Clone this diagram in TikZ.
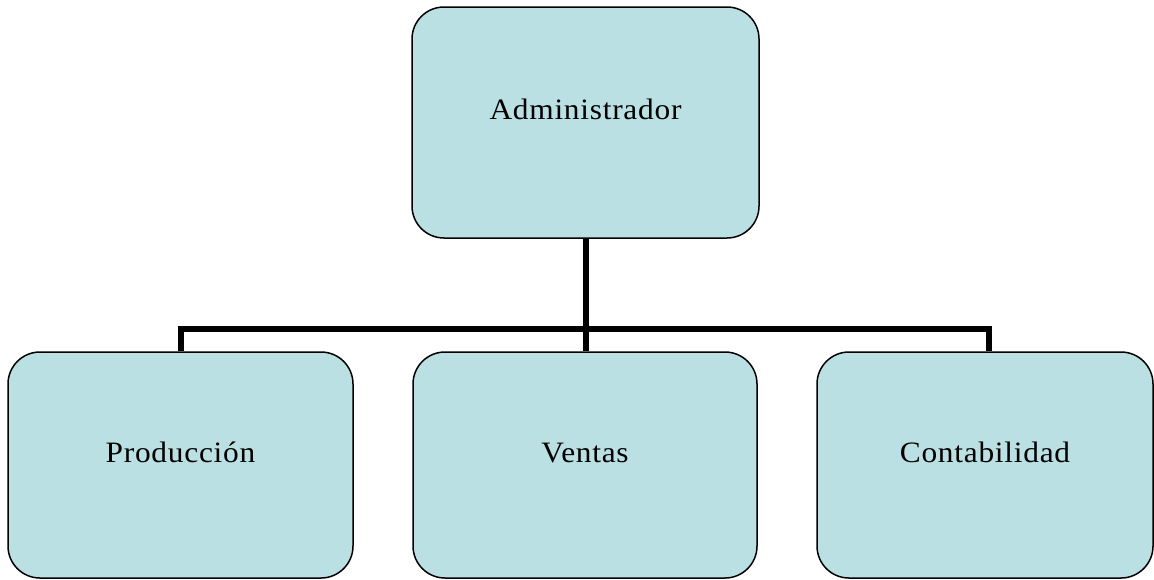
\documentclass[tikz,border=0pt]{standalone}
\usepackage{fontspec}
\setmainfont[FakeStretch=1.06, LetterSpace=2.5]{Liberation Serif}
\usetikzlibrary{calc}

\begin{document}
\begin{tikzpicture}
	\definecolor{boxcolor}{RGB}{186,224,227}
	\tikzset{
		cargo/.style={draw=black, line width=0.75pt, fill=boxcolor, rounded corners=16pt, font=\fontsize{14.8}{17}\selectfont, text height=10pt, text depth=13pt, inner sep=0pt},
		rama/.style={line width=3pt, black}
	}

	\useasboundingbox (0,0) rectangle (577pt,-289.5pt);

	\node[cargo, minimum width=173.5pt, minimum height=115.5pt] (admin) at (292.75pt,-61.25pt) {Administrador};

	\node[cargo, minimum width=172.5pt, minimum height=113pt] (prod) at (90.25pt,-232.5pt) {Producción};
	\node[cargo, minimum width=172pt, minimum height=113pt] (ventas) at (292.5pt,-232.5pt) {Ventas};
	\node[cargo, minimum width=168pt, minimum height=113pt] (cont) at (492.5pt,-232.5pt) {Contabilidad};

	\coordinate (bus) at (0,-164.5pt);

	\draw[rama] (admin.south) -- (admin.south |- ventas.north);
	\draw[rama] (prod.north) -- (prod.north |- bus) -- ($(cont.north |- bus)+(2pt,0)$) -- ($(cont.north)+(2pt,0)$);

\end{tikzpicture}
\end{document}
